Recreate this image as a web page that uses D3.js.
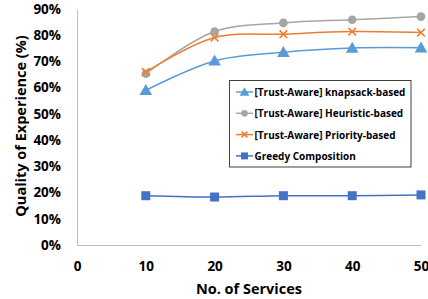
<!DOCTYPE html>
<html><head><meta charset="utf-8">
<script src="https://cdn.jsdelivr.net/npm/d3@7"></script>
<style>body{margin:0;background:#fff}svg{display:block}text{font-family:"Open Sans",sans-serif;font-weight:bold;fill:#000}</style>
</head><body>
<svg id="c" width="428" height="299"></svg>
<script>
const services = [10, 20, 30, 40, 50];
const knapsack = [0.59, 0.702, 0.735, 0.751, 0.752];
const heuristic = [0.653, 0.814, 0.847, 0.859, 0.871];
const priority = [0.66, 0.791, 0.804, 0.814, 0.81];
const greedy = [0.188, 0.183, 0.188, 0.188, 0.191];
const seriesNames = ["[Trust-Aware] knapsack-based", "[Trust-Aware] Heuristic-based", "[Trust-Aware] Priority-based", "Greedy Composition"];
const xTicks = [0, 10, 20, 30, 40, 50];
const yTicks = [0, 0.1, 0.2, 0.3, 0.4, 0.5, 0.6, 0.7, 0.8, 0.9];
const xTitle = "No. of Services";
const yTitle = "Quality of Experience (%)";

const svg = d3.select("#c");
const x = d3.scaleLinear().domain([0, 50]).range([77, 421]);
const y = d3.scaleLinear().domain([0, 0.9]).range([245, 9]);

const series = [
  {name: seriesNames[0], values: knapsack, color: "#5B9BD5", marker: "tri"},
  {name: seriesNames[1], values: heuristic, color: "#A5A5A5", marker: "circle"},
  {name: seriesNames[2], values: priority, color: "#ED7D31", marker: "x"},
  {name: seriesNames[3], values: greedy, color: "#4472C4", marker: "square"}
];

// axes
const yAxis = svg.append("g").attr("transform", "translate(77,0)")
  .call(d3.axisLeft(y).tickValues(yTicks).tickFormat(d3.format(".0%")).tickSize(0).tickPadding(16));
yAxis.select(".domain").attr("stroke", "#BFBFBF");
yAxis.selectAll("text").attr("font-size", 13.5).attr("font-family", "Open Sans").attr("font-weight", "bold");
const xAxis = svg.append("g").attr("transform", "translate(0,245)")
  .call(d3.axisBottom(x).tickValues(xTicks).tickFormat(d3.format("d")).tickSize(0).tickPadding(16));
xAxis.select(".domain").attr("stroke", "#BFBFBF");
xAxis.selectAll("text").attr("font-size", 13.5).attr("font-family", "Open Sans").attr("font-weight", "bold");

svg.append("text").attr("x", 249).attr("y", 294).attr("text-anchor", "middle").attr("font-size", 14.5).text(xTitle);
svg.append("text").attr("transform", "translate(26,126) rotate(-90)").attr("text-anchor", "middle").attr("font-size", 14.5).text(yTitle);

function drawMarker(g, type, color, cx, cy, s) {
  if (type === "tri") {
    g.append("path").attr("d", d3.symbol(d3.symbolTriangle, 70*s)()).attr("transform", `translate(${cx},${cy+1})`).attr("fill", color);
  } else if (type === "circle") {
    g.append("circle").attr("cx", cx).attr("cy", cy).attr("r", 4.3*Math.sqrt(s)).attr("fill", color);
  } else if (type === "square") {
    const h = 4.5*Math.sqrt(s);
    g.append("rect").attr("x", cx-h).attr("y", cy-h).attr("width", 2*h).attr("height", 2*h).attr("fill", color);
  } else {
    const h = 3.8*Math.sqrt(s);
    g.append("path").attr("d", `M${cx-h},${cy-h}L${cx+h},${cy+h}M${cx-h},${cy+h}L${cx+h},${cy-h}`).attr("stroke", color).attr("stroke-width", 1.6).attr("fill", "none");
  }
}

const line = d3.line().x((d, i) => x(services[i])).y(d => y(d)).curve(d3.curveCatmullRom.alpha(0.5));
series.forEach(s => {
  const g = svg.append("g");
  g.append("path").attr("d", line(s.values)).attr("fill", "none").attr("stroke", s.color).attr("stroke-width", 1.5);
  s.values.forEach((v, i) => drawMarker(g, s.marker, s.color, x(services[i]), y(v), 1));
});

// legend
const lg = svg.append("g");
lg.append("rect").attr("x", 229.5).attr("y", 80.5).attr("width", 181.5).attr("height", 86.5).attr("fill", "#fff").attr("stroke", "#404040").attr("stroke-width", 1);
series.forEach((s, i) => {
  const cy = 92 + i * 21.3;
  lg.append("line").attr("x1", 236).attr("x2", 253).attr("y1", cy).attr("y2", cy).attr("stroke", s.color).attr("stroke-width", 1.5);
  drawMarker(lg, s.marker, s.color, 244.5, cy, 0.6);
  lg.append("text").attr("x", 254.5).attr("y", cy + 4).attr("font-size", 10).text(s.name);
});
</script>
</body></html>
